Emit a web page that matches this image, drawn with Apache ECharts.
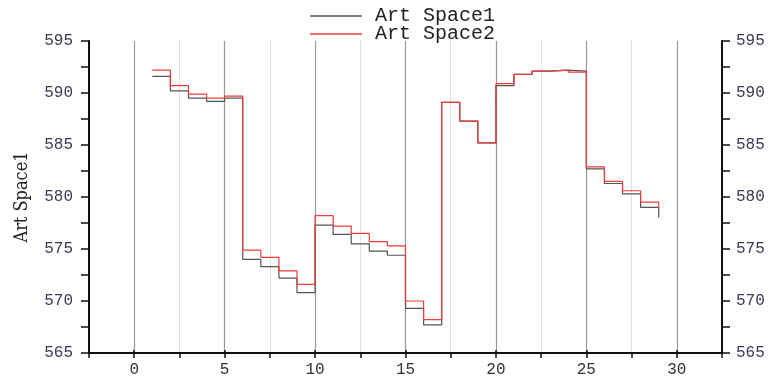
<!DOCTYPE html>
<html>
<head>
<meta charset="utf-8">
<script src="https://cdn.jsdelivr.net/npm/echarts@6/dist/echarts.min.js"></script>
<style>html,body{margin:0;padding:0;background:#fff}#c{width:771px;height:381px}</style>
</head>
<body>
<div id="c"></div>
<script>
var xValues = [1,2,3,4,5,6,7,8,9,10,11,12,13,14,15,16,17,18,19,20,21,22,23,24,25,26,27,28,29];
var space1 = [591.6,590.2,589.5,589.2,589.5,574.0,573.3,572.2,570.8,577.3,576.4,575.5,574.8,574.4,569.3,567.7,589.1,587.3,585.2,590.7,591.8,592.1,592.2,592.1,582.7,581.3,580.3,579.0,578.0];
var space2 = [592.2,590.7,589.9,589.5,589.7,574.9,574.2,572.9,571.6,578.2,577.2,576.5,575.7,575.3,570.0,568.2,589.1,587.3,585.2,590.9,591.8,592.1,592.2,592.0,582.9,581.5,580.6,579.5,578.9];
var seriesNames = ['Art Space1','Art Space2'];
var xMajorLabels = [0,5,10,15,20,25,30];

function pairs(ys){ return xValues.map(function(x,i){ return [x, ys[i]]; }); }

var labelFont = {fontFamily:'Liberation Mono', fontSize:16, color:'#3a3a55'};
var chart = echarts.init(document.getElementById('c'), null, {renderer:'canvas'});
var L = 89, R = 49, T = 41, B = 28;
var unit = (771 - L - R) / 35;
chart.setOption({
  animation:false,
  backgroundColor:'#fff',
  legend:{
    data:seriesNames, orient:'vertical', left:305, top:4, padding:[2,5,2,5],
    icon:'rect', itemWidth:52, itemHeight:1.5, itemGap:-2,
    textStyle:{fontFamily:'Liberation Mono', fontSize:20, lineHeight:18, color:'#222', padding:[0,0,0,8]}
  },
  grid:[
    {left:L, right:R, top:T, bottom:B, outerBoundsMode:'none', containLabel:false},
    {left:L + 2.5*unit, right:R + 2.5*unit, top:T, bottom:B, outerBoundsMode:'none', containLabel:false}
  ],
  xAxis:[
    {type:'value', gridIndex:0, min:-2.5, max:32.5, interval:2.5,
     axisLine:{show:true, onZero:false, lineStyle:{color:'#111', width:2}},
     axisTick:{show:true, length:5, lineStyle:{color:'#111', width:1.5}},
     axisLabel:{show:false},
     splitLine:{show:true, lineStyle:{color:'#c8c8c8', type:'dotted', width:1}}},
    {type:'value', gridIndex:1, min:0, max:30, interval:5, position:'bottom',
     axisLine:{show:false, onZero:false},
     axisTick:{show:true, inside:true, length:3, lineStyle:{color:'#111', width:1.5}},
     axisLabel:{show:true, margin:9, fontFamily:'Liberation Mono', fontSize:16, color:'#333', formatter:function(v){ return xMajorLabels.indexOf(v) >= 0 ? String(v) : ''; }},
     splitLine:{show:true, lineStyle:{color:'#999', width:1.2}}}
  ],
  yAxis:[
    {type:'value', gridIndex:0, position:'left', min:565, max:595, interval:2.5,
     name:'Art Space1', nameLocation:'middle', nameGap:58, nameRotate:90,
     nameTextStyle:{fontFamily:'DejaVu Serif Condensed', fontSize:18, color:'#222'},
     axisLine:{show:true, onZero:false, lineStyle:{color:'#111', width:2}},
     axisTick:{show:true, length:8, lineStyle:{color:'#111', width:1.5}},
     axisLabel:Object.assign({margin:16, formatter:function(v){ return v % 5 === 0 ? String(v) : ''; }}, labelFont),
     splitLine:{show:false}},
    {type:'value', gridIndex:0, position:'right', min:565, max:595, interval:2.5,
     axisLine:{show:true, onZero:false, lineStyle:{color:'#111', width:2}},
     axisTick:{show:true, length:8, lineStyle:{color:'#111', width:1.5}},
     axisLabel:Object.assign({margin:14, formatter:function(v){ return v % 5 === 0 ? String(v) : ''; }}, labelFont),
     splitLine:{show:false}},
    {type:'value', gridIndex:1, min:565, max:595, show:false}
  ],
  series:[
    {name:seriesNames[0], type:'line', step:'end', xAxisIndex:0, yAxisIndex:0, data:pairs(space1),
     symbol:'none', lineStyle:{color:'#555', width:1.2}, itemStyle:{color:'#555'}},
    {name:seriesNames[1], type:'line', step:'end', xAxisIndex:0, yAxisIndex:0, data:pairs(space2),
     symbol:'none', lineStyle:{color:'#f03c3c', width:1.2}, itemStyle:{color:'#f03c3c'}}
  ]
});
</script>
</body>
</html>
